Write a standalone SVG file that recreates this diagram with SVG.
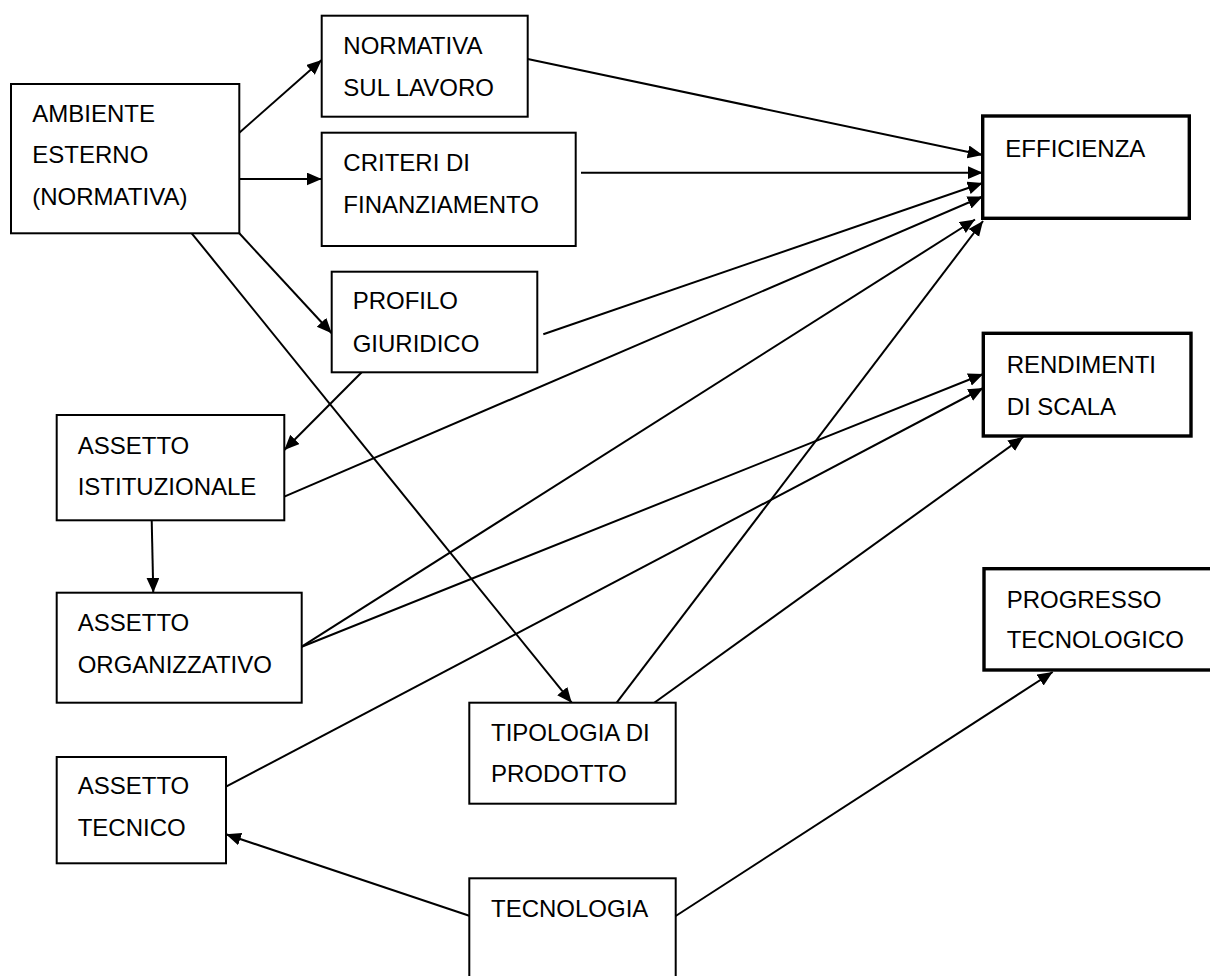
<svg xmlns="http://www.w3.org/2000/svg" width="1210" height="976" viewBox="0 0 1210 976">
<style>
.box{fill:#fff;stroke:#000;stroke-width:2}
.bold{fill:#fff;stroke:#000;stroke-width:3.4}
.lbl{font-family:"Liberation Sans",Arial,sans-serif;font-size:24px;fill:#000}
.cn{stroke:#000;stroke-width:2;fill:none;marker-end:url(#ah)}
.cn0{stroke:#000;stroke-width:2;fill:none}
</style>
<defs>
<marker id="ah" markerUnits="userSpaceOnUse" markerWidth="16" markerHeight="14" refX="15" refY="6.5" orient="auto" viewBox="0 0 16 14">
<path d="M0,0 L15,6.5 L0,13 z" fill="#000"/>
</marker>
</defs>
<rect width="1210" height="976" fill="#fff"/>
<g id="connectors">
<line class="cn" x1="239.3" y1="132.7" x2="321.7" y2="60"/>
<line class="cn" x1="239.3" y1="179" x2="321.7" y2="179"/>
<line class="cn" x1="239.3" y1="233.3" x2="331.7" y2="333.3"/>
<line class="cn" x1="191.7" y1="233.3" x2="571.7" y2="702.7"/>
<line class="cn" x1="361.7" y1="372.3" x2="284.3" y2="450"/>
<line class="cn" x1="151.7" y1="520.3" x2="153.3" y2="592.7"/>
<line class="cn" x1="527.7" y1="59" x2="982.7" y2="155"/>
<line class="cn" x1="581" y1="172.7" x2="982.7" y2="172.7"/>
<line class="cn" x1="543.3" y1="334.3" x2="982.7" y2="183"/>
<line class="cn" x1="284.3" y1="496.7" x2="982.7" y2="196.5"/>
<line class="cn" x1="301.7" y1="646.7" x2="975" y2="219.5"/>
<line class="cn" x1="616.7" y1="702.7" x2="983" y2="221"/>
<line class="cn" x1="301.7" y1="646.7" x2="983.3" y2="374"/>
<line class="cn" x1="226" y1="786.7" x2="983.3" y2="388"/>
<line class="cn" x1="654.3" y1="702.7" x2="1023.3" y2="437"/>
<line class="cn" x1="470" y1="916" x2="226" y2="834.3"/>
<line class="cn" x1="675.7" y1="916" x2="1052.7" y2="672"/>
</g>
<g id="ambiente">
<rect class="box" x="11" y="84" width="228.3" height="149.3"/>
<text class="lbl" x="32.3" y="122.3">AMBIENTE</text>
<text class="lbl" x="32.3" y="163.3">ESTERNO</text>
<text class="lbl" x="32.3" y="205">(NORMATIVA)</text>
</g>
<g id="normativa">
<rect class="box" x="321.7" y="15.7" width="206" height="101"/>
<text class="lbl" x="343.3" y="54">NORMATIVA</text>
<text class="lbl" x="343.3" y="95.7">SUL LAVORO</text>
</g>
<g id="criteri">
<rect class="box" x="321.7" y="132.7" width="254" height="113.3"/>
<text class="lbl" x="343.3" y="170.7">CRITERI DI</text>
<text class="lbl" x="343.3" y="212.7">FINANZIAMENTO</text>
</g>
<g id="profilo">
<rect class="box" x="331.7" y="271.7" width="205.6" height="100.6"/>
<text class="lbl" x="352.7" y="309.3">PROFILO</text>
<text class="lbl" x="352.7" y="351.7">GIURIDICO</text>
</g>
<g id="istituzionale">
<rect class="box" x="56.7" y="415" width="227.6" height="105.3"/>
<text class="lbl" x="77.7" y="454">ASSETTO</text>
<text class="lbl" x="77.7" y="495">ISTITUZIONALE</text>
</g>
<g id="organizzativo">
<rect class="box" x="56.7" y="592.7" width="245" height="110"/>
<text class="lbl" x="77.7" y="631">ASSETTO</text>
<text class="lbl" x="77.7" y="672.7">ORGANIZZATIVO</text>
</g>
<g id="tecnico">
<rect class="box" x="56.7" y="757" width="169.3" height="106.3"/>
<text class="lbl" x="77.7" y="794.3">ASSETTO</text>
<text class="lbl" x="77.7" y="836">TECNICO</text>
</g>
<g id="tipologia">
<rect class="box" x="469.3" y="702.7" width="206.4" height="101"/>
<text class="lbl" x="491" y="741">TIPOLOGIA DI</text>
<text class="lbl" x="491" y="782">PRODOTTO</text>
</g>
<g id="tecnologia">
<rect class="box" x="469.3" y="878.3" width="206.4" height="120"/>
<text class="lbl" x="491" y="917">TECNOLOGIA</text>
</g>
<g id="efficienza">
<rect class="bold" x="982.7" y="116" width="206.6" height="102.3"/>
<text class="lbl" x="1005.3" y="156.7">EFFICIENZA</text>
</g>
<g id="rendimenti">
<rect class="bold" x="983.3" y="333.3" width="207.7" height="102.7"/>
<text class="lbl" x="1006.7" y="373.3">RENDIMENTI</text>
<text class="lbl" x="1006.7" y="415">DI SCALA</text>
</g>
<g id="progresso">
<rect class="bold" x="984" y="568.7" width="240" height="101.3"/>
<text class="lbl" x="1006.7" y="607.7">PROGRESSO</text>
<text class="lbl" x="1006.7" y="648.3">TECNOLOGICO</text>
</g>
</svg>
